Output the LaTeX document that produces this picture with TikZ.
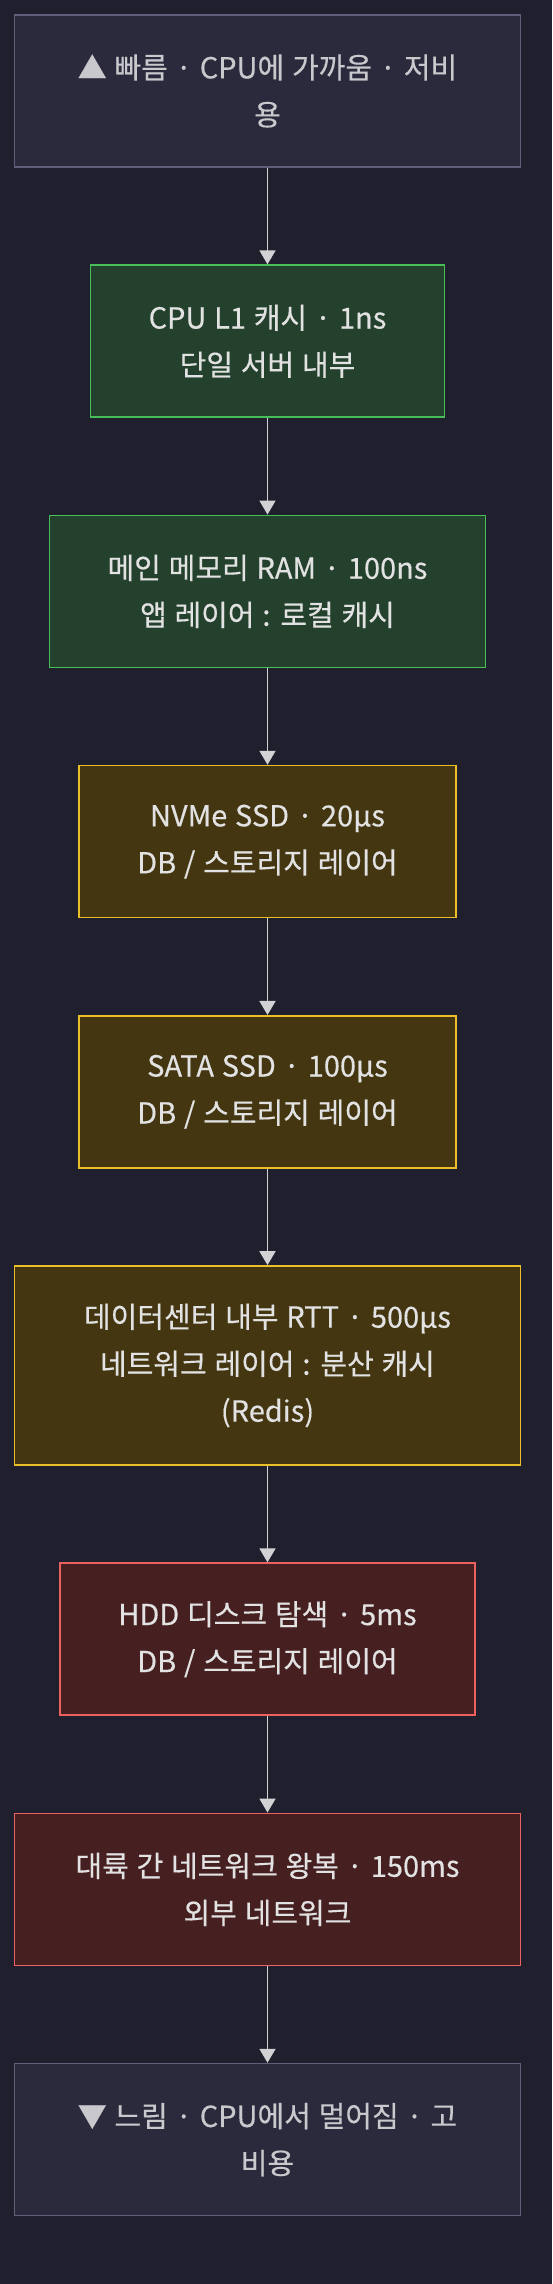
\documentclass[tikz,border=0pt]{standalone}
\usepackage{fontspec}
\setmainfont{Noto Sans CJK KR}[FakeBold=0.35, WordSpace=1.2]
\usepackage{tikz}
\usetikzlibrary{
  arrows.meta,
  positioning
}
\definecolor{bgcolor}{RGB}{31, 31, 46}
\definecolor{endfill}{RGB}{42, 42, 60}
\definecolor{endborder}{RGB}{95, 95, 122}
\definecolor{endtext}{RGB}{200, 200, 205}
\definecolor{fastfill}{RGB}{35, 65, 45}
\definecolor{fastborder}{RGB}{72, 190, 88}
\definecolor{midfill}{RGB}{68, 54, 16}
\definecolor{midborder}{RGB}{236, 190, 40}
\definecolor{slowfill}{RGB}{70, 31, 32}
\definecolor{slowborder}{RGB}{236, 96, 96}
\definecolor{labelcolor}{RGB}{226, 226, 226}
\definecolor{arrowcolor}{RGB}{210, 210, 212}
\tikzset{
blocktext/.style={
  align=center,
  font=\fontsize{14.5pt}{23.5pt}\selectfont,
  text=labelcolor
},
tierblock/.style={
  draw,
  line width=0.85pt,
  inner xsep=29pt,
  minimum height=76pt,
  blocktext
},
wideblock/.style={
  minimum width=253pt
},
fastblock/.style={
  tierblock,
  fill=fastfill,
  draw=fastborder
},
midblock/.style={
  tierblock,
  fill=midfill,
  draw=midborder
},
slowblock/.style={
  tierblock,
  fill=slowfill,
  draw=slowborder
},
endblock/.style={
  tierblock,
  wideblock,
  fill=endfill,
  draw=endborder,
  text=endtext
},
arrow/.style={
  -{Triangle[length=7pt,width=8pt]},
  line width=0.85pt,
  draw=arrowcolor
}
}

\begin{document}
\begin{tikzpicture}[
    node distance=48.25pt,
]

% ============================================================================
% 배경
% ============================================================================
\path[use as bounding box, fill=bgcolor] (0,0) rectangle (276pt,-1142pt);

% ============================================================================
% 빠른 계층
% ============================================================================
\node[endblock] (fastend) at (133.75pt,-45.5pt) {▲ 빠름 · CPU에 가까움 · 저비\\용};
\node[fastblock, below=of fastend] (l1) {CPU L1 캐시 · 1ns\\단일 서버 내부};
\node[fastblock, below=of l1] (ram) {메인 메모리 RAM · 100ns\\앱 레이어 : 로컬 캐시};

% ============================================================================
% 중간 계층
% ============================================================================
\node[midblock, below=of ram] (nvme) {NVMe SSD · 20µs\\DB / 스토리지 레이어};
\node[midblock, below=of nvme] (sata) {SATA SSD · 100µs\\DB / 스토리지 레이어};
\node[midblock, wideblock, minimum height=99.5pt, below=of sata] (dcrtt) {데이터센터 내부 RTT · 500µs\\네트워크 레이어 : 분산 캐시\\(Redis)};

% ============================================================================
% 느린 계층
% ============================================================================
\node[slowblock, below=of dcrtt] (hdd) {HDD 디스크 탐색 · 5ms\\DB / 스토리지 레이어};
\node[slowblock, wideblock, below=of hdd] (intercont) {대륙 간 네트워크 왕복 · 150ms\\외부 네트워크};
\node[endblock, below=of intercont] (slowend) {▼ 느림 · CPU에서 멀어짐 · 고\\비용};

% ============================================================================
% 화살표
% ============================================================================
\draw[arrow] (fastend) -- (l1);
\draw[arrow] (l1) -- (ram);
\draw[arrow] (ram) -- (nvme);
\draw[arrow] (nvme) -- (sata);
\draw[arrow] (sata) -- (dcrtt);
\draw[arrow] (dcrtt) -- (hdd);
\draw[arrow] (hdd) -- (intercont);
\draw[arrow] (intercont) -- (slowend);

\end{tikzpicture}
\end{document}
